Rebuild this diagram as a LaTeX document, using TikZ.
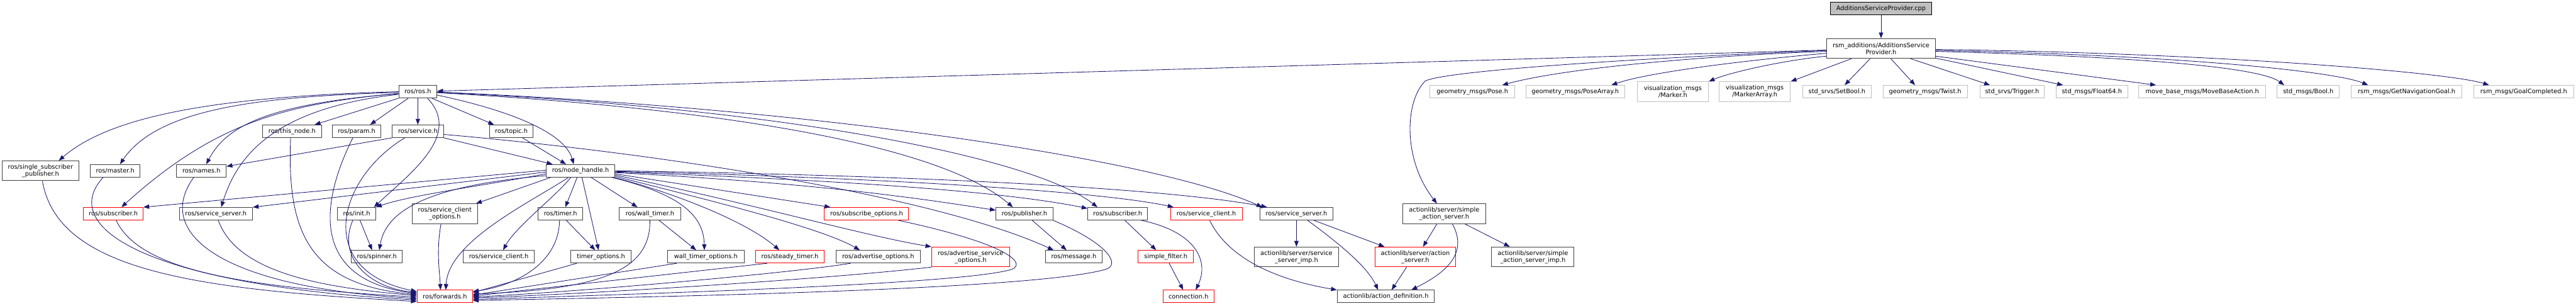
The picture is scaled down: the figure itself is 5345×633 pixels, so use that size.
\documentclass[tikz,border=0pt]{standalone}
\usepackage{fontspec}
\setmainfont{DejaVu Sans}
\usetikzlibrary{arrows.meta}
\definecolor{edgeblue}{HTML}{191970}
\definecolor{docgrey}{HTML}{404040}
\definecolor{extgrey}{HTML}{BFBFBF}
\definecolor{truncred}{HTML}{FF0000}

\begin{document}
\begin{tikzpicture}[x=1pt, y=-1pt,
    box/.style={draw, fill=white, line width=1.3pt, inner xsep=2pt, inner ysep=1pt,
                align=center, font=\fontsize{12.8}{14.5}\selectfont},
    doc/.style={box, draw=docgrey},
    trunc/.style={box, draw=truncred},
    ext/.style={box, draw=extgrey},
    root/.style={box, draw=black, fill=extgrey},
    dep/.style={draw=edgeblue, line width=1.1pt, -{Triangle[length=12pt,width=9pt]}},
  ]
  \fill[white] (0,0) rectangle (5345,633);
  \useasboundingbox (0,0) rectangle (5345,633);

  % the file and its own header
  \node[root, minimum width=210, minimum height=26] (cpp) at (3903,18)
    {AdditionsServiceProvider.cpp};
  \node[doc, minimum width=226, minimum height=41] (asp) at (3903,100.5)
    {rsm\_additions/AdditionsService\\Provider.h};

  % documented headers: name/x/y/width/height/text
  \foreach \nm/\x/\y/\w/\h/\txt in {
      ros/867/190/79/26/{ros/ros.h},
      thisnode/606/272/122/26/{ros/this\_node.h},
      param/740/272/100/26/{ros/param.h},
      service/867/272/106/26/{ros/service.h},
      topic/1061/272/91/26/{ros/topic.h},
      ssp/84/354/159/41/{ros/single\_subscriber\\\_publisher.h},
      master/239/354/103/26/{ros/master.h},
      names/418/354/103/26/{ros/names.h},
      nh/1204.5/354/142/26/{ros/node\_handle.h},
      srvsrvl/448/443/152/26/{ros/service\_server.h},
      init/740/443/79/26/{ros/init.h},
      sco/923/443/136/41/{ros/service\_client\\\_options.h},
      timer/1163/443/92/26/{ros/timer.h},
      walltimer/1348.5/443/127/26/{ros/wall\_timer.h},
      publisher/2125.6/443/118/26/{ros/publisher.h},
      subscriber/2319/443/124/26/{ros/subscriber.h},
      srvsrv/2690/443/152/26/{ros/service\_server.h},
      sas/2996.5/443/171.5/41/{actionlib/server/simple\\\_action\_server.h},
      spinner/782/532/106/26/{ros/spinner.h},
      srvclient/1035/532/148/26/{ros/service\_client.h},
      timeropts/1247/532/125/26/{timer\_options.h},
      walltimeropts/1464.5/532/159/26/{wall\_timer\_options.h},
      advopts/1822/532/174.5/26/{ros/advertise\_options.h},
      message/2228/532/118/26/{ros/message.h},
      ssimp/2690/532.5/175/41/{actionlib/server/service\\\_server\_imp.h},
      sasimp/3180.6/532.5/171/41/{actionlib/server/simple\\\_action\_server\_imp.h},
      actdef/2875.5/614.5/202/26/{actionlib/action\_definition.h}}
    \node[doc, minimum width=\w, minimum height=\h] (\nm) at (\x,\y) {\txt};

  % truncated headers (red frame)
  \foreach \nm/\x/\y/\w/\h/\txt in {
      subred/235/443/124/26/{ros/subscriber.h},
      subopts/1798/443/175/26/{ros/subscribe\_options.h},
      srvclientred/2503/443/148.5/26/{ros/service\_client.h},
      steady/1639/532/143/26/{ros/steady\_timer.h},
      advsrvopts/2014/532.5/162/41/{ros/advertise\_service\\\_options.h},
      simplefilter/2419/532/115/26/{simple\_filter.h},
      actsrv/2936.6/532.5/167/41/{actionlib/server/action\\\_server.h},
      forwards/923/614.5/115/26/{ros/forwards.h},
      connection/2466/614.5/105/26/{connection.h}}
    \node[trunc, minimum width=\w, minimum height=\h] (\nm) at (\x,\y) {\txt};

  % external message headers (grey frame)
  \foreach \nm/\x/\w/\h/\txt in {
      pose/3055/176/26/{geometry\_msgs/Pose.h},
      posearr/3268.5/205/26/{geometry\_msgs/PoseArray.h},
      marker/3471/148/41/{visualization\_msgs\\/Marker.h},
      markerarr/3641/148/41/{visualization\_msgs\\/MarkerArray.h},
      setbool/3811.5/143/26/{std\_srvs/SetBool.h},
      twist/3994.5/175/26/{geometry\_msgs/Twist.h},
      trigger/4175/134/26/{std\_srvs/Trigger.h},
      float64/4340.5/149/26/{std\_msgs/Float64.h},
      movebase/4569.5/263/26/{move\_base\_msgs/MoveBaseAction.h},
      bool/4789.5/129/26/{std\_msgs/Bool.h},
      getnav/4993.5/229/26/{rsm\_msgs/GetNavigationGoal.h},
      goalcomp/5236.5/207/26/{rsm\_msgs/GoalCompleted.h}}
    \node[ext, minimum width=\w, minimum height=\h] (\nm) at (\x,190) {\txt};

  % provider header includes
  \draw[dep] (cpp) -- (asp);
  \draw[dep] (asp) -- (ros);
  \draw[dep] (asp.182) .. controls (3300,125) and (2990,150) .. (2957,168)
             .. controls (2915,210) and (2910,330) .. ([xshift=-15]sas.north);
  \draw[dep] (asp.183) .. controls (3550,115) and (3250,140) .. ([xshift=62]pose.north);
  \draw[dep] (asp.185) .. controls (3620,125) and (3420,150) .. ([xshift=75]posearr.north);
  \draw[dep] (asp.188) .. controls (3700,125) and (3590,150) .. (marker.north east);
  \draw[dep] (asp.-161) -- (markerarr.north east);
  \foreach \nm/\ang/\dx in {setbool/-137/16, twist/-46/-21, trigger/-19/-46,
                            float64/-10/-60, movebase/-8/-96}
    \draw[dep] (asp.\ang) -- ([xshift=\dx]\nm.north);
  \draw[dep] (asp.-3) .. controls (4450,118) and (4690,140) .. ([xshift=-50]bool.north);
  \draw[dep] (asp.-2) .. controls (4550,115) and (4850,150) .. ([xshift=-80]getnav.north);
  \draw[dep] (asp.-1) .. controls (4600,110) and (5080,150) .. ([xshift=-72]goalcomp.north);

  % ros/ros.h
  \draw[dep] (ros.south west) -- ([xshift=47]thisnode.north);
  \draw[dep] ([xshift=-20]ros.south) -- ([xshift=28]param.north);
  \draw[dep] (ros) -- (service);
  \draw[dep] ([xshift=29]ros.south) -- ([xshift=-36]topic.north);
  \draw[dep] ([xshift=20]ros.south) .. controls (960,280) and (850,360) .. ([xshift=36]init.north);
  \draw[dep] (ros.-10) .. controls (1040,225) and (1170,270) .. ([xshift=-14]nh.north);
  \draw[dep] (ros.west) .. controls (450,200) and (230,240) .. ([xshift=38]ssp.north);
  \draw[dep] (ros.182) .. controls (560,200) and (330,220) .. ([xshift=10]master.north);
  \draw[dep] (ros.185) .. controls (600,215) and (450,250) .. ([xshift=17]subred.north);
  \draw[dep] (ros.186) .. controls (560,215) and (470,260) .. ([xshift=10]names.north);
  \draw[dep] (ros.188) .. controls (560,225) and (490,330) .. ([xshift=11]srvsrvl.north);
  \draw[dep] (ros.-3) .. controls (1500,225) and (1950,300) .. ([xshift=-24]publisher.north);
  \draw[dep] (ros.-2) .. controls (1650,225) and (2150,330) .. ([xshift=-42]subscriber.north);
  \draw[dep] (ros.-1) .. controls (1700,225) and (2400,330) .. ([xshift=-71]srvsrv.north);

  % second row
  \draw[dep] (service.south west) -- (names.10);
  \draw[dep] (service.south east) -- ([xshift=-58]nh.north);
  \draw[dep] ([xshift=-27]service.south) .. controls (700,370) and (650,560) .. (forwards.170);
  \draw[dep] (service.-7) .. controls (1400,320) and (1950,410) .. ([xshift=-42]message.north);
  \draw[dep] ([xshift=23]topic.south) -- ([xshift=-30]nh.north);
  \draw[dep] ([xshift=-3]thisnode.south) .. controls (595,480) and (640,590) .. (forwards.176);
  \draw[dep] ([xshift=-8]param.south) .. controls (660,430) and (650,580) .. (forwards.174);

  % left column into ros/forwards.h
  \draw[dep] ([xshift=4]ssp.south) .. controls (120,560) and (400,600) .. (forwards.190);
  \draw[dep] ([xshift=-25]master.south) .. controls (120,470) and (300,590) .. (forwards.187);
  \draw[dep] ([xshift=-16]names.south) .. controls (320,480) and (450,595) .. (forwards.184);
  \draw[dep] ([xshift=6]subred.south) .. controls (290,560) and (500,595) .. (forwards.181);
  \draw[dep] ([xshift=5]srvsrvl.south) .. controls (490,560) and (650,595) .. (forwards.178);
  \draw[dep] ([xshift=-8]init.south) .. controls (700,530) and (760,595) .. (forwards.172);
  \draw[dep] ([xshift=7]init.south) -- ([xshift=-10]spinner.north);
  \draw[dep] ([xshift=-8]sco.south) .. controls (905,520) and (912,560) .. ([xshift=-9]forwards.north);

  % ros/node_handle.h
  \draw[dep] (nh.179) -- (subred.north east);
  \draw[dep] (nh.182) -- (srvsrvl.10);
  \draw[dep] (nh.185) .. controls (1000,385) and (850,405) .. (init.north east);
  \draw[dep] (nh.188) .. controls (880,385) and (800,440) .. ([xshift=5]spinner.north);
  \draw[dep] ([xshift=10]nh.south west) -- ([xshift=-4]sco.north east);
  \draw[dep] ([xshift=-25]nh.south) .. controls (1100,420) and (930,500) .. ([xshift=2]forwards.north);
  \draw[dep] ([xshift=-20]nh.south) .. controls (1150,410) and (1070,470) .. ([xshift=9]srvclient.north);
  \draw[dep] ([xshift=-7]nh.south) -- ([xshift=10]timer.north);
  \draw[dep] ([xshift=3]nh.south) -- ([xshift=-5]timeropts.north);
  \draw[dep] ([xshift=22]nh.south) -- ([xshift=-26]walltimer.north);
  \draw[dep] ([xshift=-7]nh.south east) .. controls (1400,400) and (1460,440) .. ([xshift=-3]walltimeropts.north);
  \draw[dep] ([xshift=-2]nh.south east) .. controls (1400,400) and (1550,460) .. ([xshift=-22]steady.north);
  \draw[dep] (nh.-9) .. controls (1450,410) and (1700,470) .. ([xshift=-38]advopts.north);
  \draw[dep] (nh.-7) .. controls (1550,420) and (1800,490) .. (advsrvopts.north west);
  \draw[dep] (nh.-5) -- ([xshift=-75]subopts.north);
  \draw[dep] (nh.-3) .. controls (1700,380) and (1900,410) .. (publisher.173);
  \draw[dep] (nh.-2) .. controls (1800,375) and (2100,400) .. (subscriber.170);
  \draw[dep] (nh.-1) .. controls (1900,370) and (2300,400) .. ([xshift=-68]srvclientred.north);
  \draw[dep] (nh.0) .. controls (2000,365) and (2450,395) .. ([xshift=-61]srvsrv.north);

  % timers and options
  \draw[dep] ([xshift=-2]timer.south) .. controls (1160,540) and (1080,590) .. (forwards.10);
  \draw[dep] ([xshift=12]timer.south) -- ([xshift=-12]timeropts.north);
  \draw[dep] ([xshift=-50]timeropts.south) -- (forwards.8);
  \draw[dep] (walltimer.south) .. controls (1350,560) and (1250,600) .. (forwards.5);
  \draw[dep] ([xshift=19]walltimer.south) -- ([xshift=-20]walltimeropts.north);
  \draw[dep] ([xshift=-60]walltimeropts.south) -- (forwards.3);
  \draw[dep] ([xshift=-47]steady.south) -- (forwards.1);
  \draw[dep] ([xshift=-57]advopts.south) .. controls (1650,565) and (1200,605) .. (forwards.-1);
  \draw[dep] (advsrvopts.south west) .. controls (1700,580) and (1200,610) .. (forwards.-3);
  \draw[dep] ([xshift=66]subopts.south) .. controls (2090,505) and (2130,545) .. (2100,558)
             .. controls (2000,590) and (1300,610) .. (forwards.-6);
  \draw[dep] (publisher.south east) .. controls (2300,505) and (2325,548) .. (2295,558)
             .. controls (2150,600) and (1400,615) .. (forwards.-8);

  % publisher, subscriber and actionlib
  \draw[dep] ([xshift=16]publisher.south) -- ([xshift=-15]message.north);
  \draw[dep] ([xshift=15]subscriber.south) -- ([xshift=-20]simplefilter.north);
  \draw[dep] ([xshift=49]subscriber.south) .. controls (2480,480) and (2510,540) .. ([xshift=15]connection.north);
  \draw[dep] ([xshift=7]simplefilter.south) -- ([xshift=-11]connection.north);
  \draw[dep] ([xshift=7]srvclientred.south) .. controls (2540,520) and (2620,575) .. (actdef.north west);
  \draw[dep] (srvsrv) -- (ssimp);
  \draw[dep] ([xshift=23]srvsrv.south) .. controls (2800,520) and (2840,560) .. ([xshift=-16]actdef.north);
  \draw[dep] ([xshift=36]srvsrv.south) -- ([xshift=-64]actsrv.north);
  \draw[dep] ([xshift=-15]sas.south) -- ([xshift=16]actsrv.north);
  \draw[dep] ([xshift=17]sas.south) .. controls (3050,530) and (2990,570) .. ([xshift=53]actdef.north);
  \draw[dep] ([xshift=43]sas.south) -- ([xshift=-48]sasimp.north);
  \draw[dep] ([xshift=-18]actsrv.south) -- ([xshift=12]actdef.north);
\end{tikzpicture}
\end{document}
